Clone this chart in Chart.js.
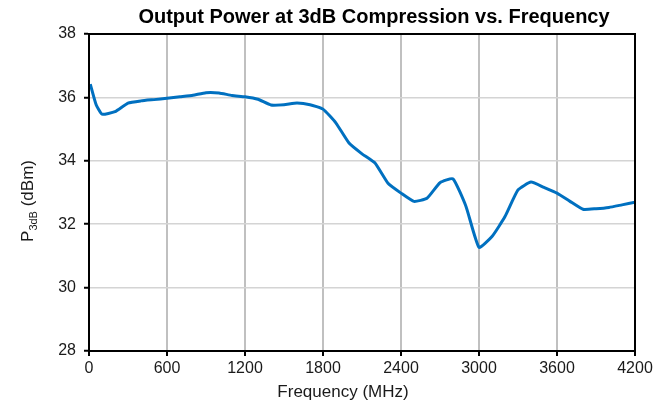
<!DOCTYPE html>
<html>
<head>
<meta charset="utf-8">
<script src="https://cdn.jsdelivr.net/npm/chart.js@4/dist/chart.umd.min.js"></script>
<style>
    html, body { margin: 0; padding: 0; background: #fff; }
    #wrap { width: 665px; height: 409px; }
</style>
</head>
<body>
<div id="wrap"><canvas id="chart" width="665" height="409"></canvas></div>
<script>
// frequency in MHz, P3dB in dBm
var freqs = [10, 55, 100, 200, 300, 400, 500, 600, 700, 800, 900, 1000, 1100, 1200, 1300, 1400,
    1500, 1600, 1700, 1800, 1900, 2000, 2100, 2200, 2300, 2400, 2500, 2600, 2700, 2800, 2900,
    3000, 3100, 3200, 3300, 3400, 3500, 3600, 3700, 3800, 3900, 4000, 4100, 4200];
var p3db = [36.42, 35.77, 35.47, 35.55, 35.82, 35.89, 35.93, 35.97, 36.02, 36.07, 36.15, 36.14,
    36.06, 36.02, 35.94, 35.76, 35.77, 35.82, 35.77, 35.63, 35.19, 34.56, 34.22, 33.93, 33.29,
    32.98, 32.72, 32.82, 33.31, 33.43, 32.56, 31.27, 31.61, 32.24, 33.08, 33.33, 33.16, 32.98,
    32.72, 32.47, 32.49, 32.53, 32.61, 32.69];
var xTicks = [0, 600, 1200, 1800, 2400, 3000, 3600, 4200];
var yTicks = [28, 30, 32, 34, 36, 38];

var titleText = 'Output Power at 3dB Compression vs. Frequency';
var xTitle = 'Frequency (MHz)';

var points = freqs.map(function (f, i) {
    return {x: f, y: p3db[i]};
});

// box round the plot plus the titles, drawn by hand (the y title has a subscript)
var decorations = {
    id: 'decorations',
    afterDraw: function (chart) {
        var ctx = chart.ctx;
        var area = chart.chartArea;

        ctx.save();
        ctx.strokeStyle = '#000';
        ctx.lineWidth = 2;
        ctx.strokeRect(area.left, area.top, area.right - area.left, area.bottom - area.top);

        ctx.fillStyle = '#000';
        ctx.textBaseline = 'middle';
        ctx.textAlign = 'center';
        ctx.font = 'bold 20px "Liberation Sans", Arial, sans-serif';
        ctx.fillText(titleText, 374, 17);

        ctx.fillStyle = '#1a1a1a';
        ctx.font = '17px "Liberation Sans", Arial, sans-serif';
        ctx.fillText(xTitle, 343, 392);

        // P3dB (dBm), rotated
        ctx.translate(27, 201);
        ctx.rotate(-Math.PI / 2);
        ctx.textAlign = 'left';
        ctx.textBaseline = 'alphabetic';
        var big = '17px "Liberation Sans", Arial, sans-serif';
        var small = '11px "Liberation Sans", Arial, sans-serif';
        ctx.font = big;
        var wP = ctx.measureText('P').width;
        var wRest = ctx.measureText(' (dBm)').width;
        ctx.font = small;
        var wSub = ctx.measureText('3dB').width;
        var x = -(wP + wSub + wRest) / 2;
        ctx.font = big;
        ctx.fillText('P', x, 6);
        ctx.font = small;
        ctx.fillText('3dB', x + wP, 10);
        ctx.font = big;
        ctx.fillText(' (dBm)', x + wP + wSub, 6);
        ctx.restore();
    }
};

function plainLabel(value) {
    return String(value);
}

new Chart(document.getElementById('chart'), {
    type: 'line',
    data: {
        datasets: [{
            data: points,
            borderColor: '#0070c0',
            borderWidth: 3,
            pointRadius: 0,
            tension: 0.15,
            fill: false
        }]
    },
    options: {
        responsive: false,
        animation: false,
        layout: {padding: {top: 34, right: 30, left: 0, bottom: 0}},
        plugins: {legend: {display: false}, tooltip: {enabled: false}, title: {display: false}},
        scales: {
            x: {
                type: 'linear',
                min: 0,
                max: 4200,
                afterBuildTicks: function (axis) {
                    axis.ticks = xTicks.map(function (v) { return {value: v}; });
                },
                afterFit: function (axis) { axis.height = 58; },
                grid: {color: '#c0c0c0', lineWidth: 2, tickColor: '#000', tickLength: 5, tickWidth: 2},
                border: {color: '#000', width: 2},
                ticks: {color: '#1a1a1a', font: {family: '"Liberation Sans", Arial, sans-serif', size: 16},
                    padding: 3, maxRotation: 0, autoSkip: false, callback: plainLabel}
            },
            y: {
                min: 28,
                max: 38,
                afterBuildTicks: function (axis) {
                    axis.ticks = yTicks.map(function (v) { return {value: v}; });
                },
                afterFit: function (axis) { axis.width = 89; },
                grid: {color: '#d4d4d4', lineWidth: 1.5, tickColor: '#000', tickLength: 5, tickWidth: 2},
                border: {color: '#000', width: 2},
                ticks: {color: '#1a1a1a', font: {family: '"Liberation Sans", Arial, sans-serif', size: 16},
                    padding: 8, callback: plainLabel}
            }
        }
    },
    plugins: [decorations]
});
</script>
</body>
</html>
